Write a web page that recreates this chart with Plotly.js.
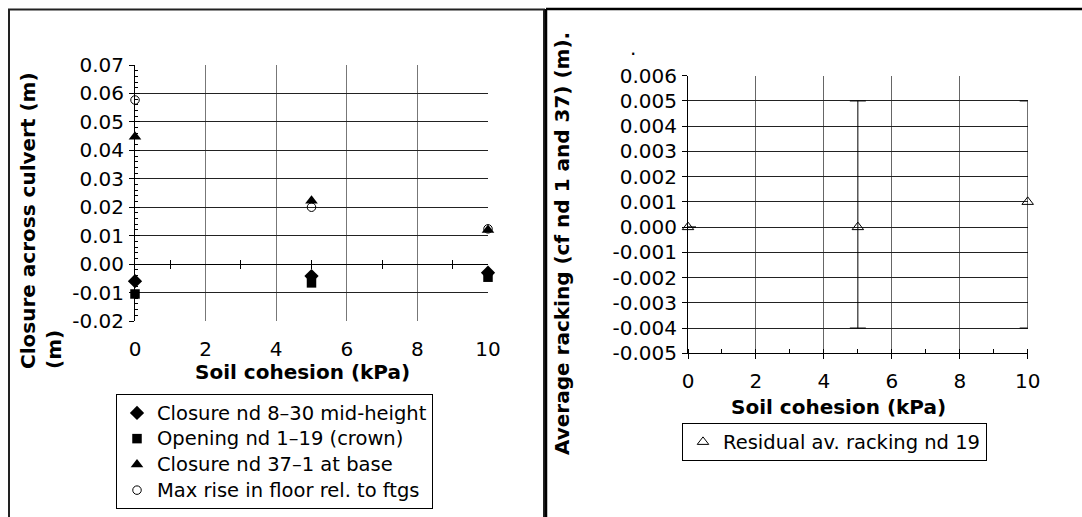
<!DOCTYPE html>
<html>
<head>
<meta charset="utf-8">
<script src="https://cdn.plot.ly/plotly-3.0.1.min.js"></script>
<style>html,body{margin:0;padding:0;background:#fff;}#chart{width:1082px;height:517px;}</style>
</head>
<body>
<div id="chart"></div>
<script>
// ---- Data ----
const cohesion = [0, 5, 10];
const closureMidHeight = [-0.006, -0.0042, -0.003];
const openingCrown = [-0.0105, -0.0066, -0.0046];
const closureBase = [0.0448, 0.0223, 0.012];
const maxFloorRise = [0.0577, 0.0200, 0.0124];

const rackingCohesion = [0, 5, 10];
const residualRacking = [0.000, 0.000, 0.001];
const rackingErrPlus = [null, 0.005, 0.004];
const rackingErrMinus = [null, 0.004, 0.005];

const xTickVals = [0, 2, 4, 6, 8, 10];
const leftYTickVals = [-0.02, -0.01, 0, 0.01, 0.02, 0.03, 0.04, 0.05, 0.06, 0.07];
const leftYTickText = ["-0.02", "-0.01", "0.00", "0.01", "0.02", "0.03", "0.04", "0.05", "0.06", "0.07"];
const rightYTickVals = [-0.005, -0.004, -0.003, -0.002, -0.001, 0, 0.001, 0.002, 0.003, 0.004, 0.005, 0.006];
const rightYTickText = ["-0.005", "-0.004", "-0.003", "-0.002", "-0.001", "0.000", "0.001", "0.002", "0.003", "0.004", "0.005", "0.006"];
const oddTicks = [1, 3, 5, 7, 9];

const leftSeriesNames = ["Closure nd 8\u201330 mid-height", "Opening nd 1\u201319 (crown)", "Closure nd 37\u20131 at base", "Max rise in floor rel. to ftgs"];
const rightSeriesName = "Residual av. racking nd 19";

// ---- Layout helpers (pixel -> paper) ----
const W = 1082, H = 517;
const px = v => v / W;
const py = v => 1 - v / H;
const FONT = "DejaVu Sans, Verdana, sans-serif";
const FS = 20;
const LFS = 19.5;
const big = s => '<span style="font-size:' + LFS + 'px">' + s + '</span>';

const traces = [
  {x: cohesion, y: closureMidHeight, name: big(leftSeriesNames[0]), type: "scatter", mode: "markers",
   marker: {symbol: "diamond", size: 11, color: "#000"}, xaxis: "x", yaxis: "y", cliponaxis: false, legend: "legend"},
  {x: cohesion, y: openingCrown, name: big(leftSeriesNames[1]), type: "scatter", mode: "markers",
   marker: {symbol: "square", size: 9.5, color: "#000"}, xaxis: "x", yaxis: "y", cliponaxis: false, legend: "legend"},
  {x: cohesion, y: closureBase, name: big(leftSeriesNames[2]), type: "scatter", mode: "markers",
   marker: {symbol: "triangle-up", size: 11, color: "#000"}, xaxis: "x", yaxis: "y", cliponaxis: false, legend: "legend"},
  {x: cohesion, y: maxFloorRise, name: big(leftSeriesNames[3]), type: "scatter", mode: "markers",
   marker: {symbol: "circle-open", size: 8.5, color: "#000", line: {width: 1, color: "#000"}}, xaxis: "x", yaxis: "y", cliponaxis: false, legend: "legend"},
  {x: rackingCohesion, y: residualRacking, name: big(rightSeriesName), type: "scatter", mode: "markers",
   marker: {symbol: "triangle-up-open", size: 10, color: "#000", line: {width: 1, color: "#000"}},
   error_y: {type: "data", array: rackingErrPlus, arrayminus: rackingErrMinus, symmetric: false, color: "#000", thickness: 1, width: 8},
   xaxis: "x2", yaxis: "y2", cliponaxis: false, legend: "legend2"},
  // empty traces so the overlay tick axes get drawn
  {x: [], y: [], xaxis: "x3", yaxis: "y", showlegend: false, hoverinfo: "skip", type: "scatter"},
  {x: [], y: [], xaxis: "x4", yaxis: "y", showlegend: false, hoverinfo: "skip", type: "scatter"},
  {x: [], y: [], xaxis: "x", yaxis: "y3", showlegend: false, hoverinfo: "skip", type: "scatter"}
];

const tickFont = {family: FONT, size: FS, color: "#000"};
const titleFont = {family: FONT, size: FS, color: "#000", weight: "bold"};

const layout = {
  width: W, height: H,
  margin: {l: 0, r: 0, t: 0, b: 0},
  paper_bgcolor: "#fff", plot_bgcolor: "#fff",
  font: {family: FONT, size: FS, color: "#000"},
  showlegend: true,
  xaxis: {domain: [px(135), px(488)], range: [0, 10], anchor: "y", tickvals: xTickVals, ticks: "",
          showgrid: true, gridcolor: "#777", gridwidth: 1.2, zeroline: false, showline: false,
          tickfont: tickFont, ticklabelstandoff: 14},
  yaxis: {domain: [py(321), py(65)], range: [-0.02, 0.07], anchor: "x", tickvals: leftYTickVals, ticktext: leftYTickText,
          ticks: "outside", ticklen: 5, tickcolor: "#000", showline: true, linecolor: "#000", linewidth: 1,
          showgrid: true, gridcolor: "#222", gridwidth: 1, zeroline: false, tickfont: tickFont, ticklabelstandoff: 1},
  yaxis3: {overlaying: "y", anchor: "x", side: "left", range: [-0.02, 0.07], tickvals: leftYTickVals, ticks: "inside",
           ticklen: 5, tickcolor: "#000", showticklabels: false, showgrid: false, zeroline: false, showline: false,
           minor: {tickmode: "linear", tick0: 0, dtick: 0.002, ticks: "inside", ticklen: 3, tickcolor: "#000", showgrid: false}},
  xaxis3: {overlaying: "x", anchor: "free", position: py(264), range: [0, 10], tickvals: oddTicks, ticks: "outside",
           ticklen: 4, tickcolor: "#000", showticklabels: false, showgrid: false, zeroline: false,
           showline: true, linecolor: "#000", linewidth: 1},
  xaxis4: {overlaying: "x", anchor: "free", position: py(264), range: [0, 10], tickvals: oddTicks, ticks: "inside",
           ticklen: 4, tickcolor: "#000", showticklabels: false, showgrid: false, zeroline: false, showline: false},
  xaxis2: {domain: [px(688), px(1027.7)], range: [0, 10], anchor: "y2", tickvals: xTickVals, ticks: "outside",
           ticklen: 5, tickcolor: "#000", showline: true, linecolor: "#000", linewidth: 1,
           showgrid: true, gridcolor: "#666", gridwidth: 1, zeroline: false, tickfont: tickFont, ticklabelstandoff: 5,
           minor: {tickmode: "linear", tick0: 0, dtick: 1, ticks: "inside", ticklen: 4, tickcolor: "#000", showgrid: false}},
  yaxis2: {domain: [py(353.3), py(75.7)], range: [-0.005, 0.006], anchor: "x2", tickvals: rightYTickVals, ticktext: rightYTickText,
           ticks: "outside", ticklen: 5, tickcolor: "#000", showline: true, linecolor: "#000", linewidth: 1,
           showgrid: true, gridcolor: "#222", gridwidth: 1, zeroline: false, tickfont: tickFont, ticklabelstandoff: 1},
  legend: {x: px(116), y: py(394), xanchor: "left", yanchor: "top", bgcolor: "#fff", bordercolor: "#000", borderwidth: 1,
           font: {family: FONT, size: 17.5, color: "#000"}, itemwidth: 30, tracegroupgap: 0},
  legend2: {x: px(682), y: py(423), xanchor: "left", yanchor: "top", bgcolor: "#fff", bordercolor: "#000", borderwidth: 1,
            font: {family: FONT, size: 17.5, color: "#000"}, itemwidth: 30},
  annotations: [
    {text: "Soil cohesion (kPa)", xref: "paper", yref: "paper", x: px(302), y: py(372), xanchor: "center", yanchor: "middle",
     showarrow: false, font: titleFont},
    {text: "Soil cohesion (kPa)", xref: "paper", yref: "paper", x: px(838), y: py(407), xanchor: "center", yanchor: "middle",
     showarrow: false, font: titleFont},
    {text: "Closure across culvert (m)<br>(m)", xref: "paper", yref: "paper", x: px(41), y: py(221), xanchor: "center", yanchor: "middle",
     textangle: -90, align: "left", showarrow: false, font: titleFont},
    {text: "Average racking (cf nd 1 and 37) (m).", xref: "paper", yref: "paper", x: px(562), y: py(244), xanchor: "center", yanchor: "middle",
     textangle: -90, showarrow: false, font: titleFont},
    {text: ".", xref: "paper", yref: "paper", x: px(633), y: py(48), xanchor: "center", yanchor: "middle",
     showarrow: false, font: {family: FONT, size: FS, color: "#000"}}
  ],
  shapes: [
    {type: "rect", xref: "paper", yref: "paper", x0: px(9), x1: px(544), y0: py(530), y1: py(9.5), line: {color: "#222", width: 2}},
    {type: "line", xref: "paper", yref: "paper", x0: px(546), x1: px(1090), y0: py(9), y1: py(9), line: {color: "#000", width: 2.5}},
    {type: "line", xref: "paper", yref: "paper", x0: px(546), x1: px(546), y0: py(9), y1: py(530), line: {color: "#000", width: 2.5}}
  ]
};

Plotly.newPlot("chart", traces, layout, {staticPlot: true, displayModeBar: false});
</script>
</body>
</html>
